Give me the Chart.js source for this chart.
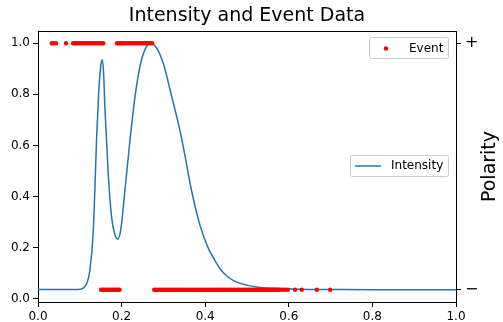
<!DOCTYPE html>
<html>
<head>
<meta charset="utf-8">
<script src="https://cdn.jsdelivr.net/npm/chart.js@4/dist/chart.umd.min.js"></script>
<style>
html,body{margin:0;padding:0;background:#fff;}
#wrap{width:503px;height:322px;}
</style>
</head>
<body>
<div id="wrap"><canvas id="c" width="503" height="322"></canvas></div>
<script>
// ---- data ----
const titleText = "Intensity and Event Data";
const intensityX = [0, 0.05, 0.09, 0.100, 0.108, 0.117, 0.124, 0.132, 0.136, 0.140, 0.145, 0.150, 0.154, 0.157, 0.160, 0.164, 0.168, 0.176, 0.184, 0.191, 0.198, 0.208, 0.220, 0.232, 0.244, 0.256, 0.268, 0.280, 0.300, 0.320, 0.340, 0.352, 0.364, 0.376, 0.388, 0.400, 0.411, 0.423, 0.435, 0.451, 0.471, 0.499, 0.531, 0.579, 0.627, 0.700, 0.800, 0.900, 1.000];
const intensityY = [0.036, 0.036, 0.036, 0.037, 0.041, 0.060, 0.110, 0.257, 0.425, 0.620, 0.800, 0.910, 0.935, 0.880, 0.750, 0.620, 0.490, 0.320, 0.250, 0.233, 0.270, 0.425, 0.620, 0.790, 0.910, 0.975, 0.998, 0.990, 0.920, 0.790, 0.655, 0.556, 0.450, 0.360, 0.285, 0.228, 0.185, 0.150, 0.118, 0.090, 0.068, 0.053, 0.044, 0.040, 0.037, 0.036, 0.035, 0.035, 0.035];
// events with positive polarity (+)
const eventPlusX = [0.033, 0.037, 0.043, 0.067,
  0.084, 0.088, 0.092, 0.096, 0.100, 0.104, 0.108, 0.112, 0.116, 0.120, 0.124, 0.128, 0.132, 0.136, 0.140, 0.144, 0.148, 0.152, 0.156,
  0.189, 0.193, 0.197, 0.201, 0.205, 0.209, 0.213, 0.217, 0.221, 0.225, 0.229, 0.233, 0.237, 0.241, 0.245, 0.249, 0.253, 0.257, 0.261, 0.265, 0.269, 0.273];
// events with negative polarity (−)
const eventMinusX = [0.151, 0.155, 0.159, 0.163, 0.167, 0.171, 0.175, 0.179, 0.183, 0.187, 0.191, 0.195,
  0.278, 0.283, 0.288, 0.293, 0.298, 0.303, 0.308, 0.313, 0.318, 0.323, 0.328, 0.333, 0.338, 0.343, 0.348, 0.353, 0.358, 0.363, 0.368, 0.373,
  0.378, 0.383, 0.388, 0.393, 0.398, 0.403, 0.408, 0.413, 0.418, 0.423, 0.428, 0.433, 0.438, 0.443, 0.448, 0.453, 0.458, 0.463, 0.468, 0.473,
  0.478, 0.483, 0.488, 0.493, 0.498, 0.503, 0.508, 0.513, 0.518, 0.523, 0.528, 0.533, 0.538, 0.543, 0.548, 0.553, 0.558, 0.563, 0.568, 0.573,
  0.578, 0.585, 0.592, 0.598, 0.615, 0.631, 0.667, 0.699];
const plusLevel = 1;
const minusLevel = -1;
const xTicks = [0, 0.2, 0.4, 0.6, 0.8, 1.0];
const yTicks = [0, 0.2, 0.4, 0.6, 0.8, 1.0];
const polarityTicks = [-1, 1];
const polarityLabels = ["−", "+"];

// ---- build ----
const FONT = '"DejaVu Sans", "Liberation Sans", sans-serif';
const intensityData = intensityX.map((x, i) => ({x: x, y: intensityY[i]}));
const plusData = eventPlusX.map(x => ({x: x, y: plusLevel}));
const minusData = eventMinusX.map(x => ({x: x, y: minusLevel}));

function axisCommon() {
  return {
    grid: {display: true, drawOnChartArea: false, drawTicks: true, tickLength: 5, color: '#000', tickWidth: 1},
    border: {display: true, color: '#000', width: 1},
    ticks: {color: '#000', font: {family: FONT, size: 12}, padding: 3, autoSkip: false, maxRotation: 0}
  };
}

const xAxis = axisCommon();
Object.assign(xAxis, {
  type: 'linear', position: 'bottom', min: 0, max: 1,
  afterBuildTicks: s => { s.ticks = xTicks.map(v => ({value: v})); },
  afterFit: s => { s.height = 20; }
});
xAxis.ticks.callback = v => Number(v).toFixed(1);

const yAxis = axisCommon();
Object.assign(yAxis, {
  type: 'linear', position: 'left', min: -0.013, max: 1.048,
  afterBuildTicks: s => { s.ticks = yTicks.map(v => ({value: v})); },
  afterFit: s => { s.width = 38; }
});
yAxis.ticks.callback = v => Number(v).toFixed(1);

const y1Axis = axisCommon();
Object.assign(y1Axis, {
  type: 'linear', position: 'right', min: -1.1, max: 1.1,
  afterBuildTicks: s => { s.ticks = polarityTicks.map(v => ({value: v})); },
  afterFit: s => { s.width = 47; }
});
y1Axis.ticks.font = {family: FONT, size: 16};
y1Axis.ticks.padding = 4;
y1Axis.ticks.callback = v => polarityLabels[polarityTicks.indexOf(v)];

function roundRect(ctx, x, y, w, h, r) {
  ctx.beginPath();
  ctx.moveTo(x + r, y);
  ctx.lineTo(x + w - r, y);
  ctx.arcTo(x + w, y, x + w, y + r, r);
  ctx.lineTo(x + w, y + h - r);
  ctx.arcTo(x + w, y + h, x + w - r, y + h, r);
  ctx.lineTo(x + r, y + h);
  ctx.arcTo(x, y + h, x, y + h - r, r);
  ctx.lineTo(x, y + r);
  ctx.arcTo(x, y, x + r, y, r);
  ctx.closePath();
}

const decor = {
  id: 'decor',
  afterDraw(chart) {
    const ctx = chart.ctx;
    const a = chart.chartArea;
    ctx.save();
    // frame
    ctx.strokeStyle = '#000';
    ctx.lineWidth = 1;
    ctx.beginPath();
    ctx.moveTo(a.left, a.top + 0.5);
    ctx.lineTo(a.right, a.top + 0.5);
    ctx.stroke();
    // title
    ctx.fillStyle = '#000';
    ctx.font = '19px ' + FONT;
    ctx.textAlign = 'center';
    ctx.textBaseline = 'middle';
    ctx.fillText(titleText, (a.left + a.right) / 2, 16);
    // right axis title
    ctx.save();
    ctx.translate(490, (a.top + a.bottom) / 2);
    ctx.rotate(-Math.PI / 2);
    ctx.font = '19px ' + FONT;
    ctx.fillText('Polarity', 0, 0);
    ctx.restore();
    // legend: Event
    ctx.font = '12px ' + FONT;
    ctx.textAlign = 'left';
    roundRect(ctx, 369.5, 37.5, 79, 21, 2);
    ctx.fillStyle = 'rgba(255,255,255,0.8)';
    ctx.fill();
    ctx.strokeStyle = '#cccccc';
    ctx.stroke();
    ctx.fillStyle = 'red';
    ctx.beginPath();
    ctx.arc(386, 48.5, 2.2, 0, Math.PI * 2);
    ctx.fill();
    ctx.fillStyle = '#000';
    ctx.fillText('Event', 409, 48.5);
    // legend: Intensity
    roundRect(ctx, 350.5, 155.5, 98, 21, 2);
    ctx.fillStyle = 'rgba(255,255,255,0.8)';
    ctx.fill();
    ctx.strokeStyle = '#cccccc';
    ctx.stroke();
    ctx.strokeStyle = '#1f77b4';
    ctx.lineWidth = 1.5;
    ctx.beginPath();
    ctx.moveTo(355, 166);
    ctx.lineTo(381, 166);
    ctx.stroke();
    ctx.fillStyle = '#000';
    ctx.fillText('Intensity', 391, 166);
    ctx.restore();
  }
};

new Chart(document.getElementById('c'), {
  type: 'scatter',
  data: {
    datasets: [
      {label: 'Event +', data: plusData, yAxisID: 'y1', showLine: false,
       pointRadius: 2.2, pointBackgroundColor: 'red', pointBorderWidth: 0, pointBorderColor: 'red'},
      {label: 'Event −', data: minusData, yAxisID: 'y1', showLine: false,
       pointRadius: 2.2, pointBackgroundColor: 'red', pointBorderWidth: 0, pointBorderColor: 'red'},
      {label: 'Intensity', data: intensityData, yAxisID: 'y', showLine: true,
       borderColor: '#1f77b4', borderWidth: 1.5, pointRadius: 0, fill: false,
       cubicInterpolationMode: 'monotone'}
    ]
  },
  options: {
    responsive: false,
    animation: false,
    devicePixelRatio: 1,
    layout: {padding: {top: 31, left: 0, right: 0, bottom: 0}},
    plugins: {legend: {display: false}, tooltip: {enabled: false}, title: {display: false}},
    scales: {x: xAxis, y: yAxis, y1: y1Axis}
  },
  plugins: [decor]
});
</script>
</body>
</html>
